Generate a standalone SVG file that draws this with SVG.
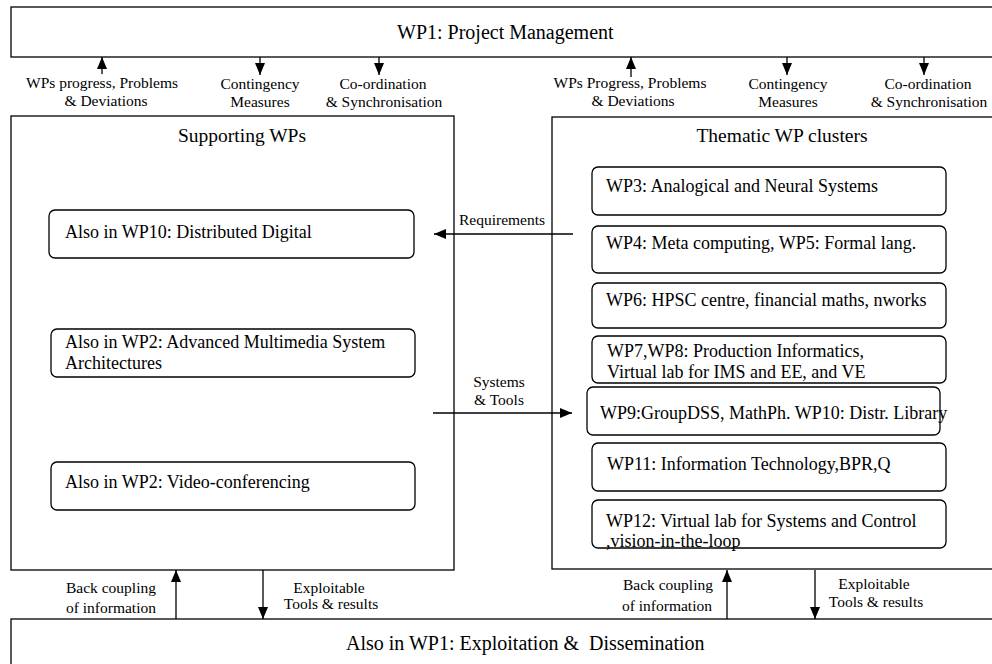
<svg xmlns="http://www.w3.org/2000/svg" width="992" height="664" viewBox="0 0 992 664">
<defs>
<marker id="ah" markerUnits="userSpaceOnUse" markerWidth="12" markerHeight="10" refX="12" refY="5" orient="auto"><path d="M0,0 L12,5 L0,10 z" fill="#000"/></marker>
<style>
.box{fill:#fff;stroke:#000;stroke-width:1.3}
.rb{fill:#fff;stroke:#000;stroke-width:1.3}
.ln{fill:none;stroke:#000;stroke-width:1.3;marker-end:url(#ah)}
text{font-family:"Liberation Serif","Times New Roman",serif;fill:#000}
.t20{font-size:20px}
.t19{font-size:19.5px}
.t18{font-size:18px}
.lb{font-size:15.5px;text-anchor:middle}
.mid{text-anchor:middle}
</style>
</defs>
<rect width="992" height="664" fill="#fff"/>
<g id="wp1-pm">
<rect class="box" x="11" y="7" width="990" height="50"/>
<text class="t20" x="397" y="39">WP1: Project Management</text>
</g>
<g id="supporting">
<rect class="box" x="11" y="116" width="443" height="454"/>
<text class="t19 mid" x="242" y="142">Supporting WPs</text>
</g>
<g id="sup-wp10">
<rect class="rb" x="49" y="210" width="365" height="48" rx="6"/>
<text class="t18" x="65" y="238">Also in WP10: Distributed Digital</text>
</g>
<g id="sup-wp2a">
<rect class="rb" x="51" y="329" width="364" height="48" rx="6"/>
<text class="t18" x="65" y="348">Also in WP2: Advanced Multimedia System</text>
<text class="t18" x="65" y="369">Architectures</text>
</g>
<g id="sup-wp2b">
<rect class="rb" x="51" y="462" width="364" height="48" rx="6"/>
<text class="t18" x="65" y="488">Also in WP2: Video-conferencing</text>
</g>
<g id="thematic">
<rect class="box" x="552" y="117" width="450" height="452"/>
<text class="t19 mid" x="782" y="142">Thematic WP clusters</text>
</g>
<g id="wp3">
<rect class="rb" x="592" y="167" width="354" height="48" rx="6"/>
<text class="t18" x="606" y="192">WP3: Analogical and Neural Systems</text>
</g>
<g id="wp4">
<rect class="rb" x="592" y="226" width="354" height="47" rx="6"/>
<text class="t18" x="606" y="249">WP4: Meta computing, WP5: Formal lang.</text>
</g>
<g id="wp6">
<rect class="rb" x="592" y="283" width="354" height="45" rx="6"/>
<text class="t18" x="606" y="306">WP6: HPSC centre, financial maths, nworks</text>
</g>
<g id="wp7">
<rect class="rb" x="592" y="336" width="354" height="47" rx="6"/>
<text class="t18" x="607" y="357">WP7,WP8: Production Informatics,</text>
<text class="t18" x="607" y="378">Virtual lab for IMS and EE, and VE</text>
</g>
<g id="wp9">
<rect class="rb" x="587" y="387" width="353" height="48" rx="6"/>
<text class="t18" x="600" y="419">WP9:GroupDSS, MathPh. WP10: Distr. Library</text>
</g>
<g id="wp11">
<rect class="rb" x="592" y="443" width="354" height="48" rx="6"/>
<text class="t18" x="607" y="470">WP11: Information Technology,BPR,Q</text>
</g>
<g id="wp12">
<rect class="rb" x="592" y="500" width="354" height="48" rx="6"/>
<text class="t18" x="606" y="527">WP12: Virtual lab for Systems and Control</text>
<text class="t18" x="606" y="547">,vision-in-the-loop</text>
</g>
<g id="wp1-ed">
<rect class="box" x="11" y="619" width="990" height="60"/>
<text class="t20" x="346" y="650" xml:space="preserve">Also in WP1: Exploitation &amp;  Dissemination</text>
</g>
<g id="connectors">
<line class="ln" x1="102" y1="74" x2="102" y2="57"/>
<line class="ln" x1="260" y1="57" x2="260" y2="75"/>
<line class="ln" x1="379" y1="57" x2="379" y2="75"/>
<line class="ln" x1="631" y1="77" x2="631" y2="57"/>
<line class="ln" x1="787" y1="57" x2="787" y2="75"/>
<line class="ln" x1="924" y1="57" x2="924" y2="75"/>
<line class="ln" x1="573" y1="234" x2="434" y2="234"/>
<line class="ln" x1="433" y1="413" x2="572" y2="413"/>
<line class="ln" x1="176" y1="619" x2="176" y2="570"/>
<line class="ln" x1="263" y1="570" x2="263" y2="619"/>
<line class="ln" x1="727" y1="619" x2="727" y2="570"/>
<line class="ln" x1="815" y1="570" x2="815" y2="619"/>
<text class="lb" x="102" y="88">WPs progress, Problems</text>
<text class="lb" x="106" y="106">&amp; Deviations</text>
<text class="lb" x="260" y="89">Contingency</text>
<text class="lb" x="260" y="107">Measures</text>
<text class="lb" x="383" y="89">Co-ordination</text>
<text class="lb" x="384" y="107">&amp; Synchronisation</text>
<text class="lb" x="630" y="88">WPs Progress, Problems</text>
<text class="lb" x="633" y="106">&amp; Deviations</text>
<text class="lb" x="788" y="89">Contingency</text>
<text class="lb" x="788" y="107">Measures</text>
<text class="lb" x="928" y="89">Co-ordination</text>
<text class="lb" x="929" y="107">&amp; Synchronisation</text>
<text class="lb" x="502" y="225">Requirements</text>
<text class="lb" x="499" y="387">Systems</text>
<text class="lb" x="499" y="405">&amp; Tools</text>
<text class="lb" x="111" y="593">Back coupling</text>
<text class="lb" x="111" y="613">of information</text>
<text class="lb" x="329" y="593">Exploitable</text>
<text class="lb" x="331" y="609">Tools &amp; results</text>
<text class="lb" x="668" y="590">Back coupling</text>
<text class="lb" x="667" y="611">of information</text>
<text class="lb" x="874" y="589">Exploitable</text>
<text class="lb" x="876" y="607">Tools &amp; results</text>
</g>
</svg>
